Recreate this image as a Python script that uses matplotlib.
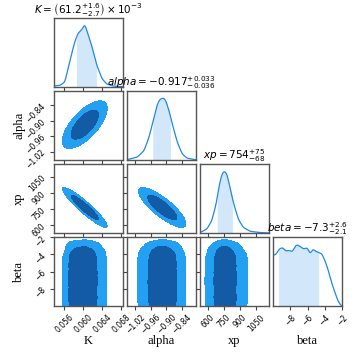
import numpy as np
import matplotlib
matplotlib.use("Agg")
import matplotlib.pyplot as plt

# ---------------- data ----------------
params = ["K", "alpha", "xp", "beta"]

K_x = [0.0538, 0.0551, 0.0561, 0.0572, 0.0582, 0.0589, 0.0597, 0.0603, 0.0610, 0.0618, 0.0628, 0.0639, 0.0649, 0.0663, 0.0683]
K_pdf = [0.01, 0.02, 0.07, 0.39, 0.66, 0.78, 0.83, 0.91, 0.76, 0.59, 0.32, 0.12, 0.04, 0.01, 0.0]

alpha_x = [-1.048, -1.012, -0.986, -0.967, -0.948, -0.935, -0.925, -0.912, -0.903, -0.890, -0.877, -0.858, -0.839, -0.820, -0.786]
alpha_pdf = [0.005, 0.04, 0.136, 0.33, 0.62, 0.81, 0.88, 0.90, 0.87, 0.72, 0.52, 0.26, 0.087, 0.024, 0.0]

xp_x = [536, 592, 638, 677, 708, 732, 751, 776, 806, 837, 882, 928, 990, 1082, 1165]
xp_pdf = [0.01, 0.058, 0.18, 0.42, 0.71, 0.86, 0.90, 0.86, 0.66, 0.44, 0.20, 0.08, 0.024, 0.005, 0.0]

beta_x = [-10.0, -9.69, -9.31, -8.93, -8.55, -8.17, -7.78, -7.40, -7.14, -6.83, -6.45, -6.07, -5.69, -5.38,
          -5.12, -4.74, -4.35, -3.98, -3.60, -3.21, -2.83, -2.46, -2.07]
beta_pdf = [0.74, 0.75, 0.83, 0.85, 0.80, 0.81, 0.79, 0.88, 0.89, 0.86, 0.83, 0.85, 0.76, 0.83,
            0.80, 0.78, 0.76, 0.66, 0.52, 0.34, 0.20, 0.07, 0.0]

# summary values (centre, +err, -err)
K_summary = (0.0612, 0.0016, 0.0027)
alpha_summary = (-0.917, 0.033, 0.036)
xp_summary = (754, 75, 68)
beta_summary = (-7.3, 2.6, 2.1)

titles = [r"$K = \left(61.2^{+1.6}_{-2.7}\right) \times 10^{-3}$",
          r"$alpha = -0.917^{+0.033}_{-0.036}$",
          r"$xp = 754^{+75}_{-68}$",
          r"$beta = -7.3^{+2.6}_{-2.1}$"]

# gaussian description of the correlated 2D posteriors
means = {"K": 0.0603, "alpha": -0.916, "xp": 765.0}
sigmas = {"K": 0.0019, "alpha": 0.037, "xp": 74.0}
corr = {("K", "alpha"): 0.68, ("K", "xp"): -0.93, ("alpha", "xp"): -0.82}

# contour levels (68.3% and 95.4% 2D credible regions)
chi2_levels = [6.18, 2.30]

limits = {"K": (0.0538, 0.0683), "alpha": (-1.052, -0.786), "xp": (530, 1165), "beta": (-10.0, -2.0)}
ticks = {"K": [0.056, 0.060, 0.064, 0.068],
         "alpha": [-1.02, -0.96, -0.90, -0.84],
         "xp": [600, 750, 900, 1050],
         "beta": [-8, -6, -4, -2]}
tick_labels = {"K": ["0.056", "0.060", "0.064", "0.068"],
               "alpha": ["\u22121.02", "\u22120.96", "\u22120.90", "\u22120.84"],
               "xp": ["600", "750", "900", "1050"],
               "beta": ["\u22128", "\u22126", "\u22124", "\u22122"]}

curves = {"K": (K_x, K_pdf), "alpha": (alpha_x, alpha_pdf), "xp": (xp_x, xp_pdf), "beta": (beta_x, beta_pdf)}
summaries = {"K": K_summary, "alpha": alpha_summary, "xp": xp_summary, "beta": beta_summary}

line_color = "#1E88E5"
outer_color = "#23A0F2"
inner_color = "#145BA6"
spine_color = "#555555"

# ---------------- helpers ----------------
def marginal(p, v):
    x, y = curves[p]
    return np.interp(v, x, y, left=0, right=0)

def smooth_curve(p, npts=400, width=0.012):
    x, y = curves[p]
    xf = np.linspace(x[0], x[-1], npts)
    yf = np.interp(xf, x, y)
    k = np.arange(-25, 26)
    sig = width * npts
    ker = np.exp(-0.5 * (k / sig) ** 2)
    ker /= ker.sum()
    pad = np.concatenate([np.full(25, yf[0]), yf, np.full(25, yf[-1])])
    ys = np.convolve(pad, ker, mode="same")[25:-25]
    return xf, ys

def density2d(px, py, X, Y):
    if px in means and py in means:
        key = (px, py) if (px, py) in corr else (py, px)
        r = corr[key]
        u = (X - means[px]) / sigmas[px]
        w = (Y - means[py]) / sigmas[py]
        return np.exp(-(u * u - 2 * r * u * w + w * w) / (2 * (1 - r * r)))
    return marginal(px, X) * marginal(py, Y)

# ---------------- figure ----------------
fig, axes = plt.subplots(4, 4, figsize=(3.6, 3.6), dpi=100)
fig.subplots_adjust(left=0.15, right=0.95, bottom=0.15, top=0.95, wspace=0.064, hspace=0.064)

n = len(params)
for i in range(n):
    for j in range(n):
        ax = axes[i, j]
        if j > i:
            ax.set_axis_off()
            continue
        for s in ax.spines.values():
            s.set_color(spine_color)
            s.set_linewidth(1.0)
        ax.tick_params(axis="both", labelsize=5.5, length=3, width=0.8, color="#444444", pad=2)
        px = params[j]
        ax.set_xlim(limits[px])
        ax.set_xticks(ticks[px])
        if i == n - 1:
            ax.set_xticklabels(tick_labels[px], rotation=45)
            ax.set_xlabel(px, fontsize=9, family="Liberation Serif")
            ax.xaxis.set_label_coords(0.5, -0.42)
        else:
            ax.set_xticklabels([])
        if i == j:
            xf, yf = smooth_curve(px)
            ax.plot(xf, yf, color=line_color, lw=0.9)
            c, up, lo = summaries[px]
            m = (xf >= c - lo) & (xf <= c + up)
            ax.fill_between(xf[m], 0, yf[m], color=line_color, alpha=0.2, lw=0)
            ax.set_ylim(0, 1.0)
            ax.set_yticks([])
            ax.set_title(titles[i], fontsize=7.5, pad=3)
            continue
        py = params[i]
        ax.set_ylim(limits[py])
        ax.set_yticks(ticks[py])
        if j == 0:
            ax.set_yticklabels(tick_labels[py], rotation=45)
            ax.set_ylabel(py, fontsize=9, family="Liberation Serif")
            ax.yaxis.set_label_coords(-0.42, 0.5)
        else:
            ax.set_yticklabels([])
        gx = np.linspace(*limits[px], 300)
        gy = np.linspace(*limits[py], 300)
        X, Y = np.meshgrid(gx, gy)
        Z = density2d(px, py, X, Y)
        Z = Z / Z.max()
        lv = [np.exp(-0.5 * c2) for c2 in chi2_levels] + [1.01]
        ax.contourf(X, Y, Z, levels=lv, colors=[outer_color, inner_color])

fig.savefig("out.png", dpi=100)
